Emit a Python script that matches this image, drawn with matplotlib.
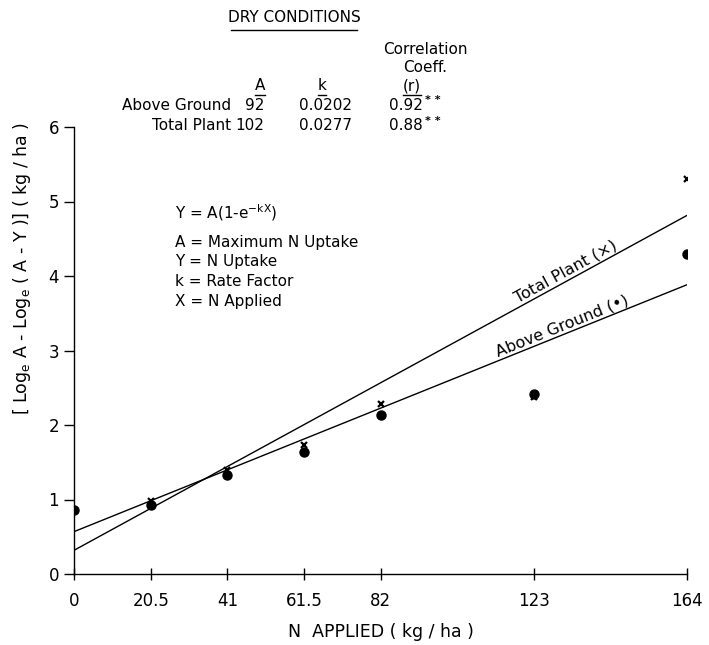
import numpy as np
import matplotlib
matplotlib.use("Agg")
import matplotlib.pyplot as plt
from matplotlib import rcParams

rcParams['font.family'] = 'DejaVu Sans'
rcParams['mathtext.default'] = 'regular'

# datos
n_aplicado = [0, 20.5, 41, 61.5, 82, 123, 164]
parte_aerea = [0.86, 0.92, 1.33, 1.64, 2.13, 2.42, 4.30]
planta_total = [0.86, 0.98, 1.40, 1.73, 2.28, 2.37, 5.30]

# ajuste lineal (intercepto, pendiente)
ajuste_aerea = (0.57, 0.0202)
ajuste_total = (0.32, 0.0274)

tabla_filas = ['Above Ground', 'Total Plant']
tabla_A = ['92', '102']
tabla_k = ['0.0202', '0.0277']
tabla_r = ['0.92', '0.88']

W, H = 709, 645


def px(x, y):
    return x / W, 1 - y / H


fig = plt.figure(figsize=(W / 100, H / 100), dpi=100)
ax = fig.add_axes([74.3 / W, 1 - 574 / H, (687 - 74.3) / W, (574 - 127) / H])

ax.plot(n_aplicado, parte_aerea, 'o', color='black', ms=6.5, zorder=3)
ax.plot(n_aplicado, planta_total, 'x', color='black', ms=5, mew=1.6, zorder=3)

xs = np.array([0, 164])
ax.plot(xs, ajuste_aerea[0] + ajuste_aerea[1] * xs, color='black', lw=1)
ax.plot(xs, ajuste_total[0] + ajuste_total[1] * xs, color='black', lw=1)

ax.set_xlim(0, 164)
ax.set_ylim(0, 6)
ax.set_xticks(n_aplicado)
ax.set_xticklabels(['0', '20.5', '41', '61.5', '82', '123', '164'])
ax.set_yticks(range(7))
ax.spines['top'].set_visible(False)
ax.spines['right'].set_visible(False)
ax.spines['left'].set_clip_on(False)
ax.tick_params(axis='x', direction='inout', length=8, width=1, labelsize=12, pad=9)
ax.tick_params(axis='y', direction='out', length=7, width=1, labelsize=12, pad=4)
for s in ax.spines.values():
    s.set_linewidth(1)


# etiquetas sobre las rectas
def angulo(b, m):
    p1 = ax.transData.transform((0, b))
    p2 = ax.transData.transform((164, b + m * 164))
    return np.degrees(np.arctan2(p2[1] - p1[1], p2[0] - p1[0]))


ax.text(131.5, 4.06, 'Total Plant (×)', rotation=angulo(*ajuste_total),
        ha='center', va='center', fontsize=11.5, rotation_mode='anchor')
ax.text(130.5, 3.33, 'Above Ground (•)', rotation=angulo(*ajuste_aerea),
        ha='center', va='center', fontsize=11.5, rotation_mode='anchor')

# formula
fig.text(*px(175, 213), 'Y = A(1-e$^{-kX}$)', fontsize=11, va='center')
leyenda = ['A = Maximum N Uptake', 'Y = N Uptake', 'k = Rate Factor', 'X = N Applied']
for i, t in enumerate(leyenda):
    fig.text(*px(175, 242 + i * 19.7), t, fontsize=11, va='center')

# encabezado y tabla
fig.text(*px(294, 18), 'DRY CONDITIONS', fontsize=11, ha='center', va='center')
fig.add_artist(plt.Line2D([231 / W, 357 / W], [1 - 30 / H, 1 - 30 / H], color='black', lw=1))
fig.text(*px(425, 50), 'Correlation', fontsize=11, ha='center', va='center')
fig.text(*px(425, 68), 'Coeff.', fontsize=11, ha='center', va='center')
for xc, t, w in [(260, 'A', 10), (322, 'k', 8), (412, '(r)', 18)]:
    fig.text(*px(xc, 86), t, fontsize=11, ha='center', va='center')
    fig.add_artist(plt.Line2D([(xc - w / 2) / W, (xc + w / 2) / W],
                              [1 - 95 / H, 1 - 95 / H], color='black', lw=1))
for i, fila in enumerate(tabla_filas):
    y = 105 + i * 21
    fig.text(*px(231, y), fila, fontsize=11, ha='right', va='center')
    fig.text(*px(264, y), tabla_A[i], fontsize=11, ha='right', va='center')
    fig.text(*px(326, y), tabla_k[i], fontsize=11, ha='center', va='center')
    fig.text(*px(389, y), tabla_r[i], fontsize=11, ha='left', va='center')
    fig.text(*px(425, y - 5), '* *', fontsize=8, ha='left', va='center', fontweight='bold')

# titulos de ejes
fig.text(*px(381, 632), 'N  APPLIED ( kg / ha )', fontsize=12.5, ha='center', va='center')
fig.text(*px(22, 268), '[ Log$_e$ A - Log$_e$ ( A - Y )] ( kg / ha )', fontsize=12.5,
         ha='center', va='center', rotation=90)

fig.savefig('out.png', dpi=100)
